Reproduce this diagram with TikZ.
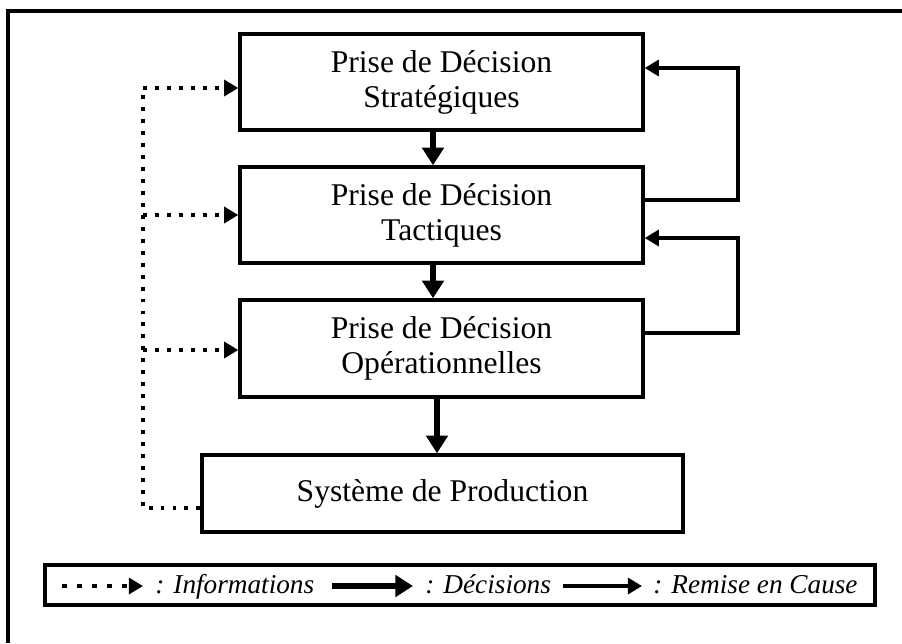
\documentclass[tikz,border=0pt]{standalone}
\usepackage{fontspec}
\setmainfont{Liberation Serif}
\usepackage{tikz}
\usetikzlibrary{positioning}
\usetikzlibrary{arrows.meta}

\tikzset{
  decbox/.style={draw,line width=2pt,align=center,inner sep=0pt,
    font=\fontsize{18}{20}\selectfont},
  decision/.style={line width=3.4pt,-{Triangle[length=10pt,width=12pt]}},
  remise/.style={line width=2pt,-{Triangle[length=8pt,width=9pt]}},
  info/.style={line width=2.2pt,dash pattern=on 2.2pt off 4.6pt,-{Triangle[length=8pt,width=9pt]}},
  infoline/.style={line width=2.2pt,dash pattern=on 2.2pt off 4.6pt},
  legtext/.style={anchor=base west,inner sep=0pt,font=\fontsize{15.5}{17}\selectfont\itshape}
}

\begin{document}
\begin{tikzpicture}[x=0.02cm,y=-0.02cm]
        \useasboundingbox (0,0) rectangle (902,643);
        % cadre
        \draw[line width=2.2pt] (902,11) -- (8,11) -- (8,643);

        \node[decbox,minimum width=8.06cm,minimum height=1.92cm] (S) at (441.5,82) {Prise de Décision\\Stratégiques};
        \node[decbox,minimum width=8.06cm,minimum height=1.92cm] (T) at (441.5,215) {Prise de Décision\\Tactiques};
        \node[decbox,minimum width=8.06cm,minimum height=1.94cm] (O) at (441.5,348.5) {Prise de Décision\\Opérationnelles};
        \node[decbox,minimum width=9.62cm,minimum height=1.54cm] (P) at (442.5,493.5) {Système de Production};

        % decisions
        \draw[decision] (S.south -| 433,0) -- (T.north -| 433,0);
        \draw[decision] (T.south -| 433,0) -- (O.north -| 433,0);
        \draw[decision] (O.south -| 437,0) -- (P.north -| 437,0);

        % remise en cause
        \draw[remise] (T.east |- 0,200) -- (738,200) -- (738,68) -- (S.east |- 0,68);
        \draw[remise] (O.east |- 0,333) -- (738,333) -- (738,238) -- (T.east |- 0,238);

        % informations
        \coordinate (i0) at (143,508);
        \coordinate (i1) at (143,88);
        \draw[infoline] (P.west |- i0) -- (i0) -- (i1);
        \draw[info] (i1) -- (S.west |- i1);
        \draw[info] (143,215) -- (T.west |- 0,215);
        \draw[info] (143,350) -- (O.west |- 0,350);

        % legende
        \node[draw,line width=2pt,minimum width=16.6cm,minimum height=0.8cm,inner sep=0pt] (L) at (460,585) {};
        \coordinate (a1) at (62,586);  \coordinate (b1) at (143,586);
        \coordinate (a2) at (332,586); \coordinate (b2) at (413,586);
        \coordinate (a3) at (563,586); \coordinate (b3) at (642,586);
        \draw[info,dash pattern=on 3pt off 5.5pt] (a1) -- (b1);
        \node[legtext] (t1) at (155,593) {: Informations};
        \draw[decision] (a2) -- (b2);
        \node[legtext] (t2) at (425,593) {: Décisions};
        \draw[remise] (a3) -- (b3);
        \node[legtext] (t3) at (653,593) {: Remise en Cause};
\end{tikzpicture}
\end{document}
